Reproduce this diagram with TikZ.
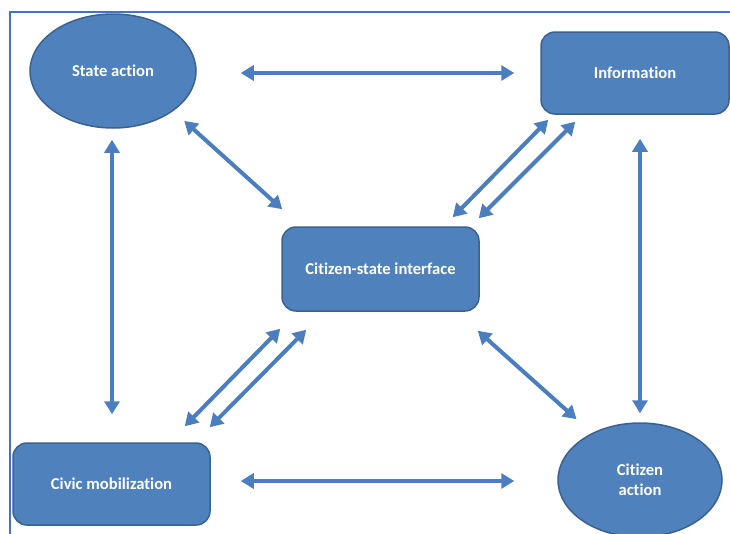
\documentclass[tikz,border=0pt]{standalone}
\usepackage{fontspec}
\setmainfont{Carlito}[Ligatures={NoCommon}]
\usetikzlibrary{shapes.geometric,arrows.meta}
\definecolor{shapefill}{HTML}{4F81BD}
\definecolor{shapeedge}{HTML}{3A6290}
\definecolor{arrowcol}{HTML}{4A7EBF}
\definecolor{framecol}{HTML}{4472C4}
\tikzset{
  lbl/.style={text=white, font=\bfseries\fontsize{16.6}{20}\selectfont, align=center},
  ovalnode/.style={ellipse, fill=shapefill, draw=shapeedge, line width=1.5pt, inner sep=0pt, lbl},
  boxnode/.style={rectangle, rounded corners=14pt, fill=shapefill, draw=shapeedge, line width=1.5pt, inner sep=0pt, lbl},
  link/.style={draw=arrowcol, line width=4pt, {Triangle[width=15pt,length=13pt]}-{Triangle[width=15pt,length=13pt]}}
}
\begin{document}
\begin{tikzpicture}[x=1pt,y=-1pt]
\useasboundingbox (0,0) rectangle (730,533);
\clip (0,0) rectangle (730,533);
\draw[framecol, line width=1.3pt] (10,12) rectangle (745,550);

\node[ovalnode, minimum width=166pt, minimum height=114pt] (sa) at (113,71) {State action};
\node[boxnode, minimum width=188pt, minimum height=82pt] (info) at (635,73) {Information};
\node[boxnode, minimum width=197pt, minimum height=84pt] (csi) at (380.5,269) {Citizen-state interface};
\node[boxnode, minimum width=197pt, minimum height=82pt] (civic) at (111.5,484) {Civic mobilization};
\node[ovalnode, minimum width=164pt, minimum height=114pt] (ca) at (640,480) {Citizen\\action};

% horizontals
\draw[link] ([shift={(44,2)}]sa.east) -- ([shift={(-26,0)}]info.west);
\draw[link] ([shift={(30,-3)}]civic.east) -- ([shift={(-43,1)}]ca.west);
% verticals
\draw[link] ([shift={(-1,11)}]sa.south) -- ([shift={(0.5,-28)}]civic.north);
\draw[link] ([shift={(5,24)}]info.south) -- ([shift={(0,-9)}]ca.north);
% single diagonals
\draw[link] ([shift={(12,9)}]sa.south east) -- ([shift={(1,-17)}]csi.north west);
\draw[link] ([shift={(-2,19)}]csi.south east) -- ([shift={(-5,-20)}]ca.north west);
% double diagonals top right
\draw[link] ([shift={(-27,-9)}]csi.north east) -- ([shift={(8,5)}]info.south west);
\draw[link] ([shift={(-1,-8)}]csi.north east) -- ([shift={(35,7)}]info.south west);
% double diagonals bottom left
\draw[link] ([shift={(-26,-16)}]civic.north east) -- ([shift={(-1,17)}]csi.south west);
\draw[link] ([shift={(-1,-15)}]civic.north east) -- ([shift={(25,18)}]csi.south west);
\end{tikzpicture}
\end{document}
